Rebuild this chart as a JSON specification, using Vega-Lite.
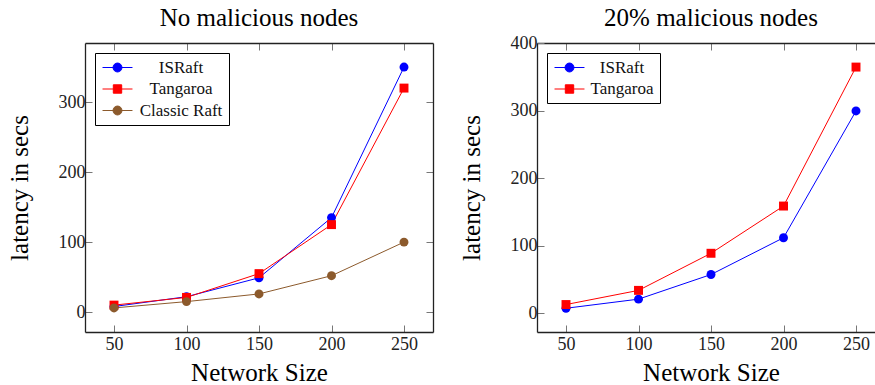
{
  "$schema": "https://vega.github.io/schema/vega-lite/v6.json",
  "background": "white",
  "padding": {"left": 7, "top": 5, "right": 0, "bottom": 0},
  "bounds": "flush",
  "spacing": 104,
  "datasets": {
    "left": [
      {"size": 50, "latency": 8, "series": "ISRaft"},
      {"size": 100, "latency": 22, "series": "ISRaft"},
      {"size": 150, "latency": 49, "series": "ISRaft"},
      {"size": 200, "latency": 135, "series": "ISRaft"},
      {"size": 250, "latency": 350, "series": "ISRaft"},
      {"size": 50, "latency": 10, "series": "Tangaroa"},
      {"size": 100, "latency": 21, "series": "Tangaroa"},
      {"size": 150, "latency": 55, "series": "Tangaroa"},
      {"size": 200, "latency": 125, "series": "Tangaroa"},
      {"size": 250, "latency": 320, "series": "Tangaroa"},
      {"size": 50, "latency": 6, "series": "Classic Raft"},
      {"size": 100, "latency": 15, "series": "Classic Raft"},
      {"size": 150, "latency": 26, "series": "Classic Raft"},
      {"size": 200, "latency": 52, "series": "Classic Raft"},
      {"size": 250, "latency": 100, "series": "Classic Raft"}
    ],
    "right": [
      {"size": 50, "latency": 7.5, "series": "ISRaft"},
      {"size": 100, "latency": 21, "series": "ISRaft"},
      {"size": 150, "latency": 57.5, "series": "ISRaft"},
      {"size": 200, "latency": 112, "series": "ISRaft"},
      {"size": 250, "latency": 300, "series": "ISRaft"},
      {"size": 50, "latency": 13, "series": "Tangaroa"},
      {"size": 100, "latency": 34, "series": "Tangaroa"},
      {"size": 150, "latency": 89, "series": "Tangaroa"},
      {"size": 200, "latency": 159, "series": "Tangaroa"},
      {"size": 250, "latency": 365, "series": "Tangaroa"}
    ]
  },
  "hconcat": [
    {
      "title": {"text": "No malicious nodes", "offset": 12},
      "width": 348,
      "height": 289,
      "data": {"name": "left"},
      "resolve": {"axis": {"x": "independent", "y": "independent"}},
      "layer": [
        {
          "mark": {"type": "line", "strokeWidth": 1, "clip": true},
          "encoding": {
            "x": {"field": "size", "type": "quantitative", "scale": {"domain": [30, 270], "nice": false, "zero": false},
                  "axis": {"orient": "bottom", "values": [50, 100, 150, 200, 250], "title": "Network Size"}},
            "y": {"field": "latency", "type": "quantitative", "scale": {"domain": [-28.4, 384.4], "nice": false, "zero": false},
                  "axis": {"orient": "left", "values": [0, 100, 200, 300], "title": "latency in secs"}},
            "color": {"field": "series", "type": "nominal",
                      "scale": {"domain": ["ISRaft", "Tangaroa", "Classic Raft"], "range": ["#0000ff", "#ff0000", "#8c5a2c"]},
                      "legend": {"labelOffset": 55,
                        "encode": {"symbols": {"update": {
                          "shape": {"signal": "datum.value == 'Tangaroa' ? 'M-2.14,0H2.14M-0.6,-0.6H0.6V0.6H-0.6Z' : 'M-2.14,0H2.14M-0.64,0A0.64,0.64 0 1,1 0.64,0A0.64,0.64 0 1,1 -0.64,0Z'"},
                          "fill": {"signal": "datum.value == 'ISRaft' ? '#0000ff' : datum.value == 'Tangaroa' ? '#ff0000' : '#8c5a2c'"},
                          "stroke": {"signal": "datum.value == 'ISRaft' ? '#0000ff' : datum.value == 'Tangaroa' ? '#ff0000' : '#8c5a2c'"},
                          "strokeWidth": {"value": 1},
                          "opacity": {"value": 1}
                        }}}}}
          }
        },
        {
          "mark": {"type": "point", "filled": true, "opacity": 1, "size": 80, "clip": true},
          "encoding": {
            "x": {"field": "size", "type": "quantitative",
                  "axis": {"orient": "top", "values": [50, 100, 150, 200, 250], "labels": false, "title": null}},
            "y": {"field": "latency", "type": "quantitative",
                  "axis": {"orient": "right", "values": [0, 100, 200, 300], "labels": false, "title": null}},
            "color": {"field": "series", "type": "nominal", "legend": null},
            "shape": {"condition": {"test": "datum.series == 'Tangaroa'", "value": "square"}, "value": "circle"}
          }
        }
      ]
    },
    {
      "title": {"text": "20% malicious nodes", "dx": 5, "offset": 3.5},
      "width": 338,
      "height": 289,
      "data": {"name": "right"},
      "resolve": {"axis": {"x": "independent", "y": "independent"}},
      "layer": [
        {
          "mark": {"type": "line", "strokeWidth": 1, "clip": true},
          "encoding": {
            "x": {"field": "size", "type": "quantitative", "scale": {"domain": [30, 263.1], "nice": false, "zero": false},
                  "axis": {"orient": "bottom", "values": [50, 100, 150, 200, 250], "title": "Network Size", "titleX": 174}},
            "y": {"field": "latency", "type": "quantitative", "scale": {"domain": [-27.7, 400.7], "nice": false, "zero": false},
                  "axis": {"orient": "left", "values": [0, 100, 200, 300, 400], "title": "latency in secs"}},
            "color": {"field": "series", "type": "nominal",
                      "scale": {"domain": ["ISRaft", "Tangaroa"], "range": ["#0000ff", "#ff0000"]},
                      "legend": {"labelOffset": 44,
                        "encode": {"symbols": {"update": {
                          "shape": {"signal": "datum.value == 'Tangaroa' ? 'M-2.14,0H2.14M-0.6,-0.6H0.6V0.6H-0.6Z' : 'M-2.14,0H2.14M-0.64,0A0.64,0.64 0 1,1 0.64,0A0.64,0.64 0 1,1 -0.64,0Z'"},
                          "fill": {"signal": "datum.value == 'ISRaft' ? '#0000ff' : '#ff0000'"},
                          "stroke": {"signal": "datum.value == 'ISRaft' ? '#0000ff' : '#ff0000'"},
                          "strokeWidth": {"value": 1},
                          "opacity": {"value": 1}
                        }}}}}
          }
        },
        {
          "mark": {"type": "point", "filled": true, "opacity": 1, "size": 80, "clip": true},
          "encoding": {
            "x": {"field": "size", "type": "quantitative",
                  "axis": {"orient": "top", "values": [50, 100, 150, 200, 250], "labels": false, "title": null}},
            "y": {"field": "latency", "type": "quantitative", "axis": null},
            "color": {"field": "series", "type": "nominal", "legend": null},
            "shape": {"condition": {"test": "datum.series == 'Tangaroa'", "value": "square"}, "value": "circle"}
          }
        }
      ]
    }
  ],
  "resolve": {"scale": {"color": "independent"}, "legend": {"color": "independent"}},
  "config": {
    "font": "Liberation Serif",
    "view": {"stroke": null},
    "title": {"font": "Liberation Serif", "fontSize": 25, "fontWeight": "normal", "color": "#000000"},
    "axis": {
      "grid": false,
      "domain": true,
      "domainColor": "#222222",
      "domainWidth": 1.3,
      "ticks": true,
      "tickSize": -7,
      "tickColor": "#777777",
      "tickWidth": 1,
      "labelFont": "Liberation Serif",
      "labelFontSize": 18,
      "labelColor": "#222222",
      "titleFont": "Liberation Serif",
      "titleFontSize": 25,
      "titleFontWeight": "normal",
      "titleColor": "#000000"
    },
    "axisBottom": {"titlePadding": 7, "labelPadding": 10},
    "axisLeft": {"titlePadding": 26, "labelPadding": 7},
    "axisTop": {"labelPadding": 8},
    "axisRight": {"labelPadding": 8},
    "legend": {
      "orient": "top-left",
      "offset": 10,
      "title": null,
      "strokeColor": "#000000",
      "fillColor": "#ffffff",
      "padding": 6,
      "symbolSize": 196,
      "symbolOffset": 8,
      "labelFont": "Liberation Serif",
      "labelFontSize": 17,
      "labelColor": "#111111",
      "labelAlign": "center",
      "rowPadding": 3.5
    }
  }
}
